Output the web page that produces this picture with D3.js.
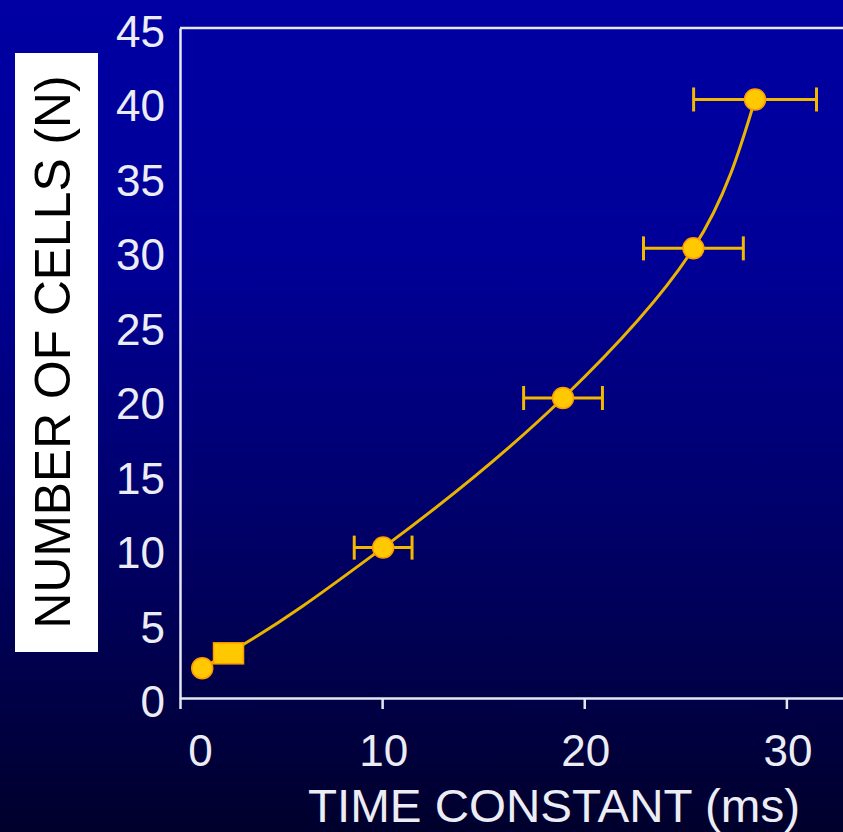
<!DOCTYPE html>
<meta charset="utf-8">
<style>
body {
  margin: 0;
  background: #000030;
}

svg {
  display: block;
}

text {
  font-family: 'Liberation Sans', Arial, sans-serif;
}

.axis path,
.axis line {
  stroke: #e6e6f2;
  stroke-width: 2.5;
}

.axis text {
  font-size: 44px;
  fill: #ececf4;
}

.errbar {
  stroke: #f2b800;
  stroke-width: 3;
}

.curve {
  fill: none;
  stroke: #e8b400;
  stroke-width: 3;
}

.marker {
  fill: #ffc800;
  stroke: #ff9a00;
  stroke-width: 1.5;
}
</style>
<body>
<svg width="843" height="832"></svg>

<script src="https://d3js.org/d3.v7.min.js"></script>
<script>

    // time constant (ms), number of cells, error (ms)
    const timeConstant = [1.1, 2.4, 10.05, 18.95, 25.4, 28.45]
    const cells = [2.0, 3.0, 10.1, 20.15, 30.2, 40.2]
    const timeError = [0, 0, 1.43, 1.95, 2.47, 3.04]
    const markerShape = ['circle', 'square', 'circle', 'circle', 'circle', 'circle']

    const xTicks = [0, 10, 20, 30]
    const yTicks = [0, 5, 10, 15, 20, 25, 30, 35, 40, 45]

    const dane = timeConstant.map((t, i) => ({
      t: t, n: cells[i], err: timeError[i], shape: markerShape[i]
    }))

    const svg = d3.select('svg')

    const grad = svg.append('defs').append('linearGradient')
      .attr('id', 'bg')
      .attr('x1', 0).attr('y1', 0).attr('x2', 0).attr('y2', 1)
    grad.append('stop').attr('offset', '0%').attr('stop-color', '#0000a3')
    grad.append('stop').attr('offset', '30%').attr('stop-color', '#000098')
    grad.append('stop').attr('offset', '65%').attr('stop-color', '#000066')
    grad.append('stop').attr('offset', '100%').attr('stop-color', '#00002c')

    svg.append('rect')
      .attr('width', 843)
      .attr('height', 832)
      .attr('fill', 'url(#bg)')

    const xScale = d3.scaleLinear()
      .domain([0, 32.9])
      .range([180, 845])

    const yScale = d3.scaleLinear()
      .domain([0, 45])
      .range([698, 28])

    // top frame line
    svg.append('line')
      .attr('x1', xScale(0))
      .attr('x2', xScale.range()[1])
      .attr('y1', yScale(45))
      .attr('y2', yScale(45))
      .attr('stroke', '#e6e6f2')
      .attr('stroke-width', 2.5)

    const xAxis = svg.append('g')
      .attr('class', 'axis')
      .attr('transform', `translate(0, ${yScale(0)})`)
      .call(d3.axisBottom(xScale)
        .tickValues(xTicks)
        .tickSize(11)
        .tickSizeOuter(0)
        .tickPadding(26)
        .tickFormat(d3.format('d')))

    xAxis.selectAll('text')
      .attr('dx', (d) => d === 0 ? 20 : 1)

    const yAxis = svg.append('g')
      .attr('class', 'axis')
      .attr('transform', `translate(${xScale(0)}, 0)`)
      .call(d3.axisLeft(yScale)
        .tickValues(yTicks)
        .tickSize(0)
        .tickSizeOuter(0)
        .tickPadding(15)
        .tickFormat(d3.format('d')))

    yAxis.selectAll('text')
      .attr('dy', '0.42em')

    // curve through the points
    const line = d3.line()
      .x((d) => xScale(d.t))
      .y((d) => yScale(d.n))
      .curve(d3.curveMonotoneY)

    svg.append('path')
      .datum(dane)
      .attr('class', 'curve')
      .attr('d', line)

    // horizontal error bars
    const errs = svg.selectAll('.err')
      .data(dane.filter((d) => d.err > 0))
      .enter()
      .append('g')
      .attr('class', 'errbar')

    errs.append('line')
      .attr('x1', (d) => xScale(d.t - d.err))
      .attr('x2', (d) => xScale(d.t + d.err))
      .attr('y1', (d) => yScale(d.n))
      .attr('y2', (d) => yScale(d.n))

    errs.selectAll('.cap')
      .data((d) => [[d.t - d.err, d.n], [d.t + d.err, d.n]])
      .enter()
      .append('line')
      .attr('x1', (c) => xScale(c[0]))
      .attr('x2', (c) => xScale(c[0]))
      .attr('y1', (c) => yScale(c[1]) - 12)
      .attr('y2', (c) => yScale(c[1]) + 12)

    // markers
    svg.selectAll('.dot')
      .data(dane.filter((d) => d.shape === 'circle'))
      .enter()
      .append('circle')
      .attr('class', 'marker')
      .attr('cx', (d) => xScale(d.t))
      .attr('cy', (d) => yScale(d.n))
      .attr('r', 10.5)

    svg.selectAll('.sq')
      .data(dane.filter((d) => d.shape === 'square'))
      .enter()
      .append('rect')
      .attr('class', 'marker')
      .attr('x', (d) => xScale(d.t) - 15)
      .attr('y', (d) => yScale(d.n) - 10.5)
      .attr('width', 30)
      .attr('height', 21)

    // y axis label in white box
    svg.append('rect')
      .attr('x', 15)
      .attr('y', 53)
      .attr('width', 83)
      .attr('height', 599)
      .attr('fill', '#ffffff')

    svg.append('text')
      .attr('transform', 'translate(70, 352) rotate(-90)')
      .attr('text-anchor', 'middle')
      .attr('font-size', 50)
      .attr('fill', '#000000')
      .attr('textLength', 553)
      .attr('lengthAdjust', 'spacingAndGlyphs')
      .text('NUMBER OF CELLS (N)')

    svg.append('text')
      .attr('x', 554)
      .attr('y', 822)
      .attr('text-anchor', 'middle')
      .attr('font-size', 46)
      .attr('fill', '#ececf4')
      .attr('textLength', 492)
      .attr('lengthAdjust', 'spacingAndGlyphs')
      .text('TIME CONSTANT (ms)')

</script>
</body>
